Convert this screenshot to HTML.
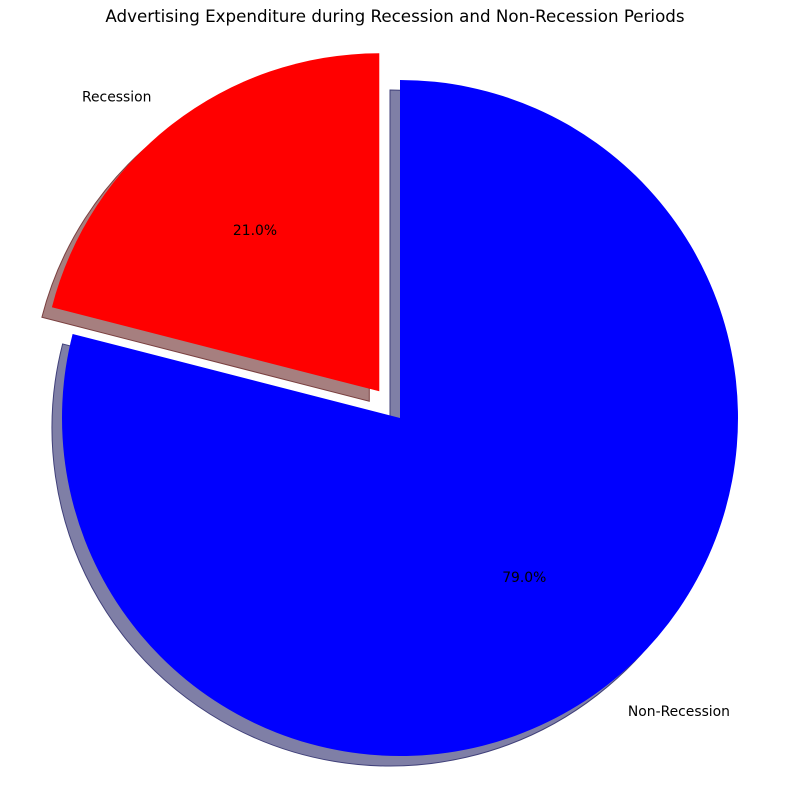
<!DOCTYPE html>
<html><head><meta charset="utf-8"><style>
html,body{margin:0;padding:0;background:#fff;}
svg text{font-family:"DejaVu Sans","Liberation Sans",sans-serif;font-size:13.9px;fill:#000;}
</style></head><body>
<svg id="chart" width="790" height="790" viewBox="0 0 790 790">
<text x="395" y="22" text-anchor="middle" style="font-size:16.7px">Advertising Expenditure during Recession and Non-Recession Periods</text>
<g id="shadows"></g><g id="slices"></g><g id="labels"></g>
</svg>
<script>
const categories = ["Recession", "Non-Recession"];
const values = [21, 79];
const colors = ["#ff0000", "#0000ff"];
const shadowColors = ["#a67f7f", "#7f7fa6"];
const shadowEdges = ["#7a4040", "#40407a"];
const explode = [0.1, 0];
const cx = 400, cy = 418, R = 338, startAngle = 90;
const ns = "http://www.w3.org/2000/svg";
const total = values.reduce((a,b)=>a+b,0);
function pt(ox,oy,r,deg){const a=deg*Math.PI/180;return [ox+r*Math.cos(a), oy-r*Math.sin(a)];}
function wedgePath(ox,oy,a0,a1){
  const p0=pt(ox,oy,R,a0), p1=pt(ox,oy,R,a1);
  const large=(a1-a0)>180?1:0;
  return `M${ox},${oy} L${p0[0]},${p0[1]} A${R},${R} 0 ${large} 0 ${p1[0]},${p1[1]} Z`;
}
let a=startAngle;
const sh=document.getElementById('shadows'), sl=document.getElementById('slices'), lb=document.getElementById('labels');
values.forEach((v,i)=>{
  const span=v/total*360, a0=a, a1=a+span, mid=(a0+a1)/2;
  const off=pt(0,0,explode[i]*R,mid);
  const ox=cx+off[0], oy=cy+off[1];
  const s=document.createElementNS(ns,'path');
  s.setAttribute('d',wedgePath(ox-10,oy+10,a0,a1));
  s.setAttribute('fill',shadowColors[i]);
  s.setAttribute('stroke',shadowEdges[i]);
  s.setAttribute('stroke-width','1');
  
  
  sh.appendChild(s);
  const p=document.createElementNS(ns,'path');
  p.setAttribute('d',wedgePath(ox,oy,a0,a1));
  p.setAttribute('fill',colors[i]);
  
  
  sl.appendChild(p);
  const lp=pt(ox,oy,R*1.1,mid);
  const t=document.createElementNS(ns,'text');
  t.setAttribute('x',lp[0]);t.setAttribute('y',lp[1]+4);
  t.setAttribute('text-anchor',lp[0]<cx?'end':'start');
  t.textContent=categories[i];
  
  
  lb.appendChild(t);
  const pp=pt(ox,oy,R*0.6,mid);
  const t2=document.createElementNS(ns,'text');
  t2.setAttribute('x',pp[0]);t2.setAttribute('y',pp[1]+4);
  t2.setAttribute('text-anchor','middle');
  t2.textContent=(v/total*100).toFixed(1)+'%';
  
  
  lb.appendChild(t2);
  a=a1;
});
</script>
</body></html>
